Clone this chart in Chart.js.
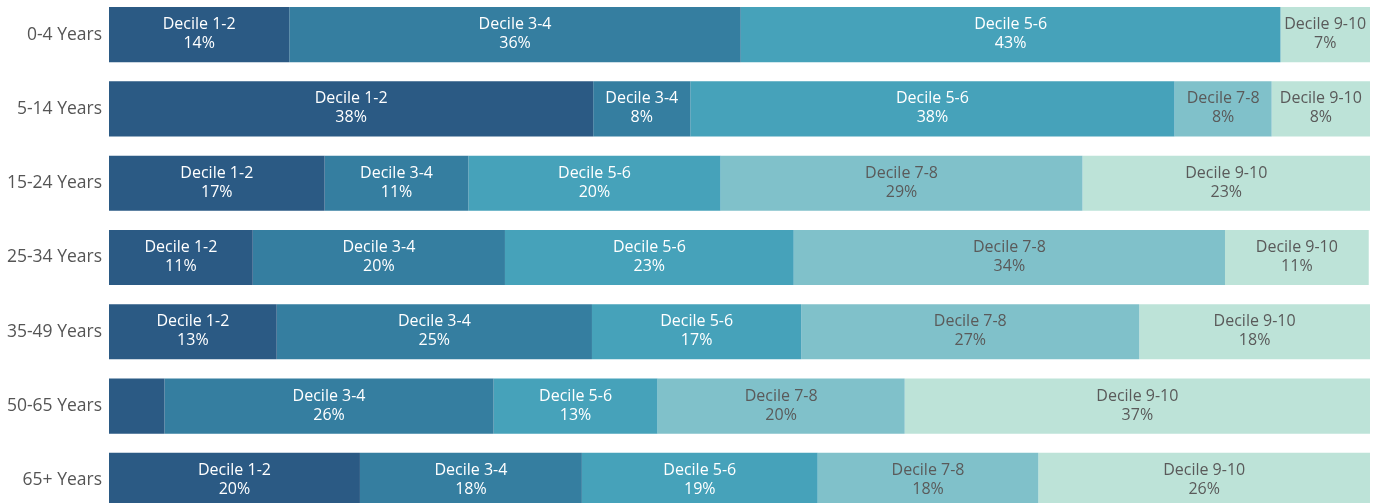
<!DOCTYPE html>
<html>
<head>
<meta charset="utf-8">
<script src="https://cdn.jsdelivr.net/npm/chart.js@4"></script>
<style>
html,body{margin:0;padding:0;background:#fff;overflow:hidden;width:1381px;height:503px;}
#c{position:absolute;left:0;top:-20px;}
</style>
</head>
<body>
<canvas id="c" width="1381" height="555" style="width:1381px;height:555px"></canvas>
<script>
const categories = ['0-4 Years','5-14 Years','15-24 Years','25-34 Years','35-49 Years','50-65 Years','65+ Years'];
const seriesNames = ['Decile 1-2','Decile 3-4','Decile 5-6','Decile 7-8','Decile 9-10'];
const decile12 = [14.3, 38.4, 17.1, 11.4, 13.3, 4.4, 19.9];
const decile34 = [35.8, 7.7, 11.4, 20.0, 25.0, 26.1, 17.6];
const decile56 = [42.8, 38.4, 20.0, 22.9, 16.6, 13.0, 18.7];
const decile78 = [0, 7.7, 28.7, 34.2, 26.8, 19.6, 17.5];
const decile910 = [7.1, 7.8, 22.8, 11.4, 18.3, 36.9, 26.3];
const colors = ['#2b5a84','#357ea0','#46a2ba','#80c1ca','#bde3d8'];
const textColors = ['#ffffff','#ffffff','#ffffff','#5a5a5a','#5a5a5a'];
const FONT = '"Open Sans", "Noto Sans", sans-serif';

const allSeries = [decile12, decile34, decile56, decile78, decile910];

const labelPlugin = {
  id: 'segLabels',
  afterDatasetsDraw(chart) {
    const ctx = chart.ctx;
    ctx.save();
    ctx.font = '16px ' + FONT;
    ctx.textAlign = 'center';
    ctx.textBaseline = 'middle';
    chart.data.datasets.forEach((ds, di) => {
      const meta = chart.getDatasetMeta(di);
      meta.data.forEach((el, i) => {
        const v = ds.data[i];
        const w = Math.abs(el.x - el.base);
        if (!v || w < 70) return;
        const cx = (el.x + el.base) / 2;
        ctx.fillStyle = textColors[di];
        ctx.fillText(ds.label, cx, el.y - 10);
        ctx.fillText(Math.round(v) + '%', cx, el.y + 9);
      });
    });
    ctx.restore();
  }
};

new Chart(document.getElementById('c'), {
  type: 'bar',
  data: {
    labels: categories,
    datasets: allSeries.map((d, i) => ({
      label: seriesNames[i],
      data: d,
      backgroundColor: colors[i],
      borderWidth: 0,
      categoryPercentage: 1,
      barPercentage: 0.742
    }))
  },
  options: {
    indexAxis: 'y',
    responsive: false,
    animation: false,
    layout: { padding: { left: 0, right: 11, top: 0, bottom: 0 } },
    plugins: { legend: { display: false }, tooltip: { enabled: false } },
    scales: {
      x: { stacked: true, min: 0, max: 100, display: false },
      y: {
        stacked: true,
        grid: { display: false, drawTicks: false },
        border: { display: false },
        ticks: { color: '#555555', font: { family: FONT, size: 17.5 }, padding: 7 },
        afterFit(scale) { scale.width = 109; }
      }
    }
  },
  plugins: [labelPlugin]
});
</script>
</body>
</html>
